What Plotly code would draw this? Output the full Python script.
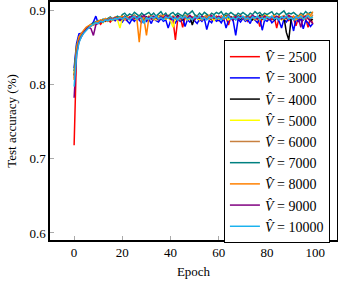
import plotly.graph_objects as go

epochs = list(range(100))

v_2500 = [0.718, 0.842, 0.858, 0.866, 0.870, 0.874, 0.876, 0.879, 0.880, 0.882,
          0.884, 0.881, 0.886, 0.885, 0.887, 0.884, 0.888, 0.886, 0.889, 0.887,
          0.890, 0.888, 0.886, 0.891, 0.889, 0.887, 0.890, 0.892, 0.888, 0.886,
          0.891, 0.889, 0.893, 0.887, 0.890, 0.892, 0.888, 0.891, 0.889, 0.893,
          0.890, 0.887, 0.860, 0.889, 0.892, 0.877, 0.890, 0.888, 0.891, 0.887,
          0.892, 0.889, 0.886, 0.891, 0.888, 0.893, 0.890, 0.887, 0.891, 0.889,
          0.886, 0.892, 0.888, 0.890, 0.880, 0.891, 0.889, 0.893, 0.887, 0.890,
          0.888, 0.891, 0.885, 0.890, 0.893, 0.887, 0.891, 0.878, 0.890, 0.888,
          0.892, 0.889, 0.887, 0.891, 0.876, 0.890, 0.888, 0.892, 0.889, 0.886,
          0.891, 0.888, 0.879, 0.890, 0.887, 0.892, 0.889, 0.877, 0.890, 0.881]
v_3000 = [0.822, 0.855, 0.868, 0.869, 0.872, 0.876, 0.878, 0.880, 0.884, 0.892,
          0.882, 0.886, 0.884, 0.888, 0.885, 0.887, 0.889, 0.886, 0.890, 0.888,
          0.884, 0.889, 0.886, 0.882, 0.888, 0.885, 0.890, 0.886, 0.883, 0.889,
          0.885, 0.888, 0.882, 0.890, 0.886, 0.884, 0.889, 0.885, 0.887, 0.876,
          0.886, 0.889, 0.883, 0.888, 0.885, 0.890, 0.878, 0.887, 0.884, 0.889,
          0.886, 0.882, 0.888, 0.885, 0.889, 0.874, 0.886, 0.883, 0.890, 0.885,
          0.887, 0.883, 0.889, 0.876, 0.886, 0.890, 0.885, 0.866, 0.888, 0.884,
          0.889, 0.885, 0.887, 0.882, 0.890, 0.886, 0.883, 0.889, 0.873, 0.887,
          0.885, 0.889, 0.883, 0.886, 0.890, 0.885, 0.876, 0.888, 0.884, 0.889,
          0.886, 0.872, 0.888, 0.885, 0.889, 0.875, 0.886, 0.883, 0.878, 0.882]
v_4000 = [0.812, 0.848, 0.860, 0.866, 0.871, 0.875, 0.877, 0.880, 0.882, 0.883,
          0.885, 0.884, 0.887, 0.886, 0.888, 0.887, 0.889, 0.890, 0.888, 0.891,
          0.889, 0.892, 0.890, 0.888, 0.891, 0.893, 0.889, 0.890, 0.892, 0.888,
          0.891, 0.889, 0.892, 0.890, 0.888, 0.891, 0.893, 0.889, 0.890, 0.892,
          0.888, 0.891, 0.889, 0.893, 0.890, 0.887, 0.891, 0.889, 0.892, 0.880,
          0.890, 0.892, 0.888, 0.891, 0.889, 0.893, 0.890, 0.888, 0.892, 0.889,
          0.891, 0.888, 0.890, 0.893, 0.889, 0.891, 0.887, 0.890, 0.892, 0.888,
          0.891, 0.889, 0.892, 0.890, 0.887, 0.891, 0.889, 0.893, 0.888, 0.890,
          0.892, 0.889, 0.891, 0.887, 0.890, 0.892, 0.888, 0.891, 0.870, 0.860,
          0.889, 0.891, 0.888, 0.890, 0.892, 0.887, 0.891, 0.889, 0.886, 0.888]
v_5000 = [0.815, 0.846, 0.861, 0.867, 0.870, 0.874, 0.877, 0.879, 0.881, 0.883,
          0.884, 0.886, 0.883, 0.887, 0.885, 0.888, 0.886, 0.889, 0.887, 0.876,
          0.889, 0.887, 0.890, 0.888, 0.891, 0.889, 0.887, 0.890, 0.888, 0.891,
          0.889, 0.892, 0.888, 0.890, 0.887, 0.891, 0.889, 0.892, 0.888, 0.890,
          0.886, 0.877, 0.889, 0.891, 0.888, 0.890, 0.892, 0.887, 0.890, 0.888,
          0.891, 0.889, 0.887, 0.890, 0.892, 0.888, 0.891, 0.889, 0.886, 0.890,
          0.888, 0.891, 0.889, 0.892, 0.887, 0.890, 0.888, 0.891, 0.889, 0.893,
          0.890, 0.887, 0.891, 0.889, 0.892, 0.888, 0.890, 0.887, 0.891, 0.889,
          0.893, 0.888, 0.890, 0.892, 0.889, 0.891, 0.887, 0.890, 0.888, 0.892,
          0.889, 0.891, 0.887, 0.890, 0.893, 0.888, 0.891, 0.889, 0.892, 0.890]
v_6000 = [0.808, 0.850, 0.862, 0.868, 0.871, 0.875, 0.878, 0.880, 0.882, 0.884,
          0.883, 0.886, 0.885, 0.888, 0.886, 0.889, 0.887, 0.890, 0.888, 0.891,
          0.889, 0.887, 0.891, 0.889, 0.892, 0.888, 0.890, 0.893, 0.889, 0.891,
          0.888, 0.892, 0.890, 0.887, 0.891, 0.889, 0.893, 0.890, 0.888, 0.891,
          0.889, 0.892, 0.888, 0.890, 0.887, 0.891, 0.889, 0.893, 0.890, 0.888,
          0.892, 0.889, 0.891, 0.887, 0.890, 0.893, 0.888, 0.891, 0.889, 0.892,
          0.889, 0.891, 0.888, 0.890, 0.892, 0.889, 0.891, 0.887, 0.890, 0.893,
          0.889, 0.891, 0.888, 0.892, 0.890, 0.887, 0.891, 0.889, 0.893, 0.890,
          0.888, 0.891, 0.889, 0.892, 0.890, 0.888, 0.891, 0.893, 0.889, 0.891,
          0.890, 0.892, 0.888, 0.891, 0.889, 0.893, 0.890, 0.892, 0.889, 0.894]
v_7000 = [0.818, 0.852, 0.863, 0.868, 0.872, 0.876, 0.879, 0.881, 0.883, 0.885,
          0.886, 0.885, 0.888, 0.887, 0.889, 0.891, 0.888, 0.890, 0.892, 0.889,
          0.894, 0.896, 0.892, 0.895, 0.893, 0.897, 0.894, 0.892, 0.896, 0.893,
          0.895, 0.897, 0.893, 0.896, 0.892, 0.895, 0.898, 0.893, 0.896, 0.891,
          0.895, 0.897, 0.893, 0.896, 0.894, 0.892, 0.897, 0.894, 0.896, 0.899,
          0.894, 0.892, 0.896, 0.893, 0.897, 0.895, 0.892, 0.896, 0.894, 0.897,
          0.895, 0.898, 0.893, 0.896, 0.894, 0.897, 0.895, 0.892, 0.896, 0.894,
          0.897, 0.895, 0.892, 0.896, 0.894, 0.898, 0.895, 0.897, 0.893, 0.896,
          0.894, 0.896, 0.898, 0.893, 0.896, 0.894, 0.897, 0.899, 0.894, 0.896,
          0.895, 0.897, 0.894, 0.892, 0.896, 0.894, 0.898, 0.895, 0.897, 0.896]
v_8000 = [0.806, 0.849, 0.864, 0.869, 0.873, 0.877, 0.879, 0.881, 0.880, 0.884,
          0.885, 0.887, 0.886, 0.889, 0.887, 0.890, 0.888, 0.891, 0.889, 0.890,
          0.892, 0.889, 0.891, 0.888, 0.890, 0.893, 0.889, 0.857, 0.891, 0.888,
          0.866, 0.890, 0.892, 0.889, 0.891, 0.888, 0.890, 0.893, 0.889, 0.891,
          0.888, 0.892, 0.890, 0.887, 0.891, 0.889, 0.893, 0.890, 0.888, 0.891,
          0.889, 0.892, 0.890, 0.887, 0.891, 0.889, 0.893, 0.890, 0.888, 0.892,
          0.890, 0.887, 0.891, 0.889, 0.893, 0.890, 0.888, 0.891, 0.889, 0.892,
          0.890, 0.888, 0.891, 0.889, 0.892, 0.890, 0.887, 0.891, 0.889, 0.893,
          0.890, 0.888, 0.891, 0.893, 0.889, 0.892, 0.890, 0.888, 0.891, 0.893,
          0.890, 0.892, 0.889, 0.891, 0.894, 0.890, 0.892, 0.895, 0.893, 0.898]
v_9000 = [0.782, 0.840, 0.858, 0.865, 0.870, 0.874, 0.877, 0.875, 0.866, 0.880,
          0.883, 0.885, 0.884, 0.887, 0.886, 0.889, 0.887, 0.890, 0.888, 0.886,
          0.889, 0.891, 0.888, 0.890, 0.892, 0.889, 0.891, 0.888, 0.890, 0.893,
          0.889, 0.891, 0.888, 0.892, 0.890, 0.887, 0.891, 0.889, 0.893, 0.890,
          0.888, 0.891, 0.889, 0.892, 0.890, 0.888, 0.891, 0.889, 0.893, 0.890,
          0.887, 0.891, 0.889, 0.892, 0.890, 0.888, 0.891, 0.893, 0.889, 0.890,
          0.892, 0.888, 0.891, 0.889, 0.893, 0.890, 0.887, 0.891, 0.889, 0.892,
          0.890, 0.888, 0.891, 0.889, 0.893, 0.890, 0.888, 0.891, 0.889, 0.892,
          0.890, 0.887, 0.891, 0.889, 0.892, 0.890, 0.888, 0.891, 0.889, 0.893,
          0.890, 0.888, 0.891, 0.889, 0.877, 0.890, 0.892, 0.888, 0.885, 0.882]
v_10000 = [0.797, 0.838, 0.856, 0.864, 0.869, 0.873, 0.876, 0.879, 0.881, 0.883,
           0.882, 0.885, 0.884, 0.887, 0.886, 0.888, 0.887, 0.889, 0.888, 0.890,
           0.888, 0.891, 0.889, 0.887, 0.890, 0.892, 0.888, 0.891, 0.889, 0.882,
           0.890, 0.888, 0.891, 0.889, 0.892, 0.888, 0.890, 0.887, 0.891, 0.889,
           0.892, 0.888, 0.890, 0.887, 0.891, 0.889, 0.892, 0.888, 0.890, 0.887,
           0.891, 0.889, 0.892, 0.888, 0.890, 0.887, 0.891, 0.889, 0.892, 0.888,
           0.890, 0.887, 0.891, 0.889, 0.892, 0.888, 0.890, 0.887, 0.891, 0.889,
           0.892, 0.888, 0.890, 0.887, 0.891, 0.889, 0.892, 0.888, 0.890, 0.887,
           0.891, 0.889, 0.892, 0.888, 0.890, 0.887, 0.891, 0.889, 0.892, 0.888,
           0.890, 0.887, 0.891, 0.889, 0.892, 0.888, 0.890, 0.893, 0.889, 0.891]

series_labels = ["2500", "3000", "4000", "5000", "6000", "7000", "8000", "9000", "10000"]
series_values = [v_2500, v_3000, v_4000, v_5000, v_6000, v_7000, v_8000, v_9000, v_10000]
series_colors = ["#ff0000", "#0000ff", "#000000", "#ffff00", "#c8803f",
                 "#008080", "#ff8000", "#800080", "#1ab2ee"]

x_ticks = [0, 20, 40, 60, 80, 100]
y_ticks = [0.6, 0.7, 0.8, 0.9]

FONT = "Liberation Serif"

fig = go.Figure()
for lab, vals, col in zip(series_labels, series_values, series_colors):
    fig.add_trace(go.Scatter(
        x=epochs, y=vals, mode="lines",
        line=dict(color=col, width=1.5),
        name="<i>V\u0302</i> = " + lab,
    ))

axis_common = dict(
    showline=True, linecolor="black", linewidth=1.5, mirror=True,
    ticks="inside", ticklen=4, tickcolor="#aaaaaa", tickwidth=1,
    showgrid=False, zeroline=False,
    tickfont=dict(family=FONT, size=13, color="black"),
)

fig.update_layout(
    width=338, height=282,
    margin=dict(l=50, r=1, t=2, b=42, autoexpand=False),
    paper_bgcolor="white", plot_bgcolor="white",
    font=dict(family=FONT, size=13, color="black"),
    xaxis=dict(range=[-10, 109], tickvals=x_ticks,
               title=dict(text="Epoch", font=dict(family=FONT, size=13), standoff=8),
               **axis_common),
    yaxis=dict(range=[0.5905, 0.911], tickvals=y_ticks,
               ticktext=[f"{t:.1f}" for t in y_ticks],
               title=dict(text="Test accuracy (%)", font=dict(family=FONT, size=13), standoff=10),
               **axis_common),
    legend=dict(
        x=0.606, y=0.84, xanchor="left", yanchor="top",
        bgcolor="white", bordercolor="black", borderwidth=1,
        font=dict(family=FONT, size=14),
        tracegroupgap=0, itemwidth=30,
    ),
    showlegend=True,
)

fig.write_html("out.html", config={"displayModeBar": False},
               post_script="document.body.style.margin='0';document.body.style.padding='0';")
